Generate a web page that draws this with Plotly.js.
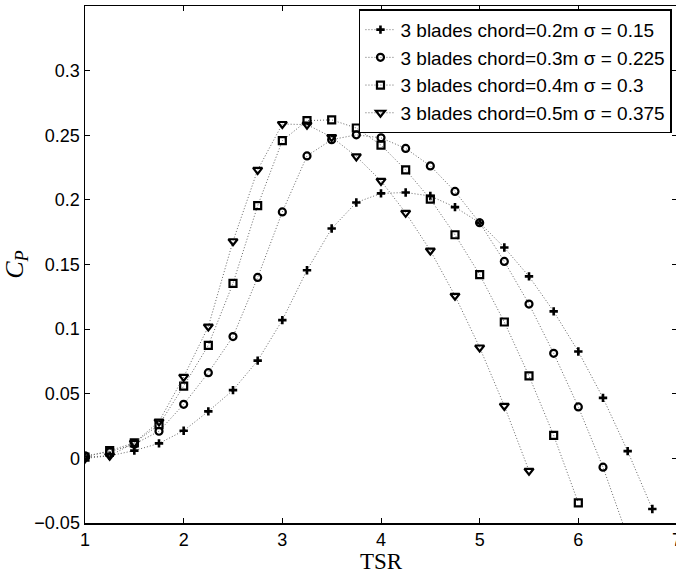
<!DOCTYPE html>
<html>
<head>
<meta charset="utf-8">
<script src="https://cdn.plot.ly/plotly-3.0.1.min.js"></script>
<style>
  html, body { margin: 0; padding: 0; overflow: hidden; background: #fff; }
  #chart { width: 678px; height: 574px; }
</style>
</head>
<body>
<div id="chart"></div>
<script>
// TSR values (x)
const tsr = [1, 1.25, 1.5, 1.75, 2, 2.25, 2.5, 2.75, 3, 3.25, 3.5, 3.75, 4, 4.25, 4.5, 4.75, 5, 5.25, 5.5, 5.75, 6, 6.25, 6.5, 6.75];

// Cp series
const cpChord02 = [0.001, 0.002, 0.006, 0.0116, 0.0214, 0.0364, 0.0528, 0.0756, 0.107, 0.1456, 0.1778, 0.198, 0.205, 0.2057, 0.203, 0.1944, 0.1823, 0.1631, 0.1408, 0.1137, 0.0827, 0.0468, 0.0056, -0.0392];
const cpChord03 = [0.002, 0.005, 0.011, 0.021, 0.0418, 0.0663, 0.0942, 0.14, 0.1907, 0.234, 0.2466, 0.2503, 0.248, 0.2398, 0.2263, 0.2065, 0.1823, 0.1524, 0.1194, 0.0813, 0.0398, -0.0068, -0.061];
const cpChord04 = [0.001, 0.006, 0.012, 0.026, 0.0559, 0.0875, 0.1354, 0.1955, 0.2458, 0.2613, 0.2619, 0.2556, 0.2424, 0.2232, 0.2006, 0.173, 0.1422, 0.1055, 0.0638, 0.0178, -0.0344];
const cpChord05 = [0.0, 0.002, 0.012, 0.0285, 0.063, 0.102, 0.168, 0.2232, 0.2587, 0.2582, 0.2486, 0.2336, 0.2147, 0.19, 0.1608, 0.1258, 0.0858, 0.0406, -0.0096];

// legend labels
const seriesNames = [
  "3 blades chord=0.2m σ = 0.15",
  "3 blades chord=0.3m σ = 0.225",
  "3 blades chord=0.4m σ = 0.3",
  "3 blades chord=0.5m σ = 0.375"
];

// axis ticks
const xTickVals = [1, 2, 3, 4, 5, 6, 7];
const yTickVals = [-0.05, 0, 0.05, 0.1, 0.15, 0.2, 0.25, 0.3];
const yTickText = ["\u22120.05", "0", "0.05", "0.1", "0.15", "0.2", "0.25", "0.3"];

const seriesY = [cpChord02, cpChord03, cpChord04, cpChord05];
const symbols = ["cross-thin-open", "circle-open", "square-open", "triangle-down-open"];
const sizes = [6, 7, 7, 8];
const widths = [2.6, 2.2, 2.2, 2.2];

const lineStyle = { color: "#666", width: 1, dash: "1px,2px" };

const traces = seriesY.map((ys, i) => ({
  type: "scatter",
  mode: "lines+markers",
  x: tsr.slice(0, ys.length),
  y: ys,
  name: seriesNames[i],
  line: lineStyle,
  marker: { symbol: symbols[i], size: sizes[i], color: "#000", line: { color: "#000", width: widths[i] } },
  cliponaxis: true
}));

const tickFont = { family: "Liberation Sans, Arial, sans-serif", size: 18, color: "#000" };

const layout = {
  width: 678,
  height: 574,
  margin: { l: 85, r: 1, t: 6, b: 51 },
  paper_bgcolor: "#fff",
  plot_bgcolor: "#fff",
  showlegend: true,
  legend: {
    x: 0.9915, xanchor: "right",
    y: 0.9936, yanchor: "top",
    bgcolor: "#fff",
    bordercolor: "#000",
    borderwidth: 1.5,
    font: { family: "Liberation Sans, Arial, sans-serif", size: 19, color: "#000" },
    traceorder: "normal"
  },
  xaxis: {
    range: [1, 7],
    tickvals: xTickVals,
    ticks: "inside",
    ticklen: 5,
    tickwidth: 1,
    tickcolor: "#000",
    showline: true,
    linecolor: "#000",
    linewidth: 1.5,
    mirror: "ticks",
    showgrid: false,
    zeroline: false,
    tickfont: tickFont,
    ticklabeloverflow: "allow",
    ticklabelstandoff: 0,
    title: { text: "TSR", font: { family: "Liberation Serif, Times New Roman, serif", size: 23, color: "#000" }, standoff: 8 }
  },
  yaxis: {
    range: [-0.05, 0.35],
    tickvals: yTickVals,
    ticktext: yTickText,
    ticks: "inside",
    ticklen: 5,
    tickwidth: 1,
    tickcolor: "#000",
    showline: true,
    linecolor: "#000",
    linewidth: 1.5,
    mirror: "ticks",
    showgrid: false,
    zeroline: false,
    tickfont: tickFont,
    title: { text: "<i>C</i><sub><i>P</i></sub>", font: { family: "Liberation Serif, Times New Roman, serif", size: 26, color: "#000" }, standoff: 4 }
  }
};

Plotly.newPlot("chart", traces, layout, { displayModeBar: false, staticPlot: true });
</script>
</body>
</html>
